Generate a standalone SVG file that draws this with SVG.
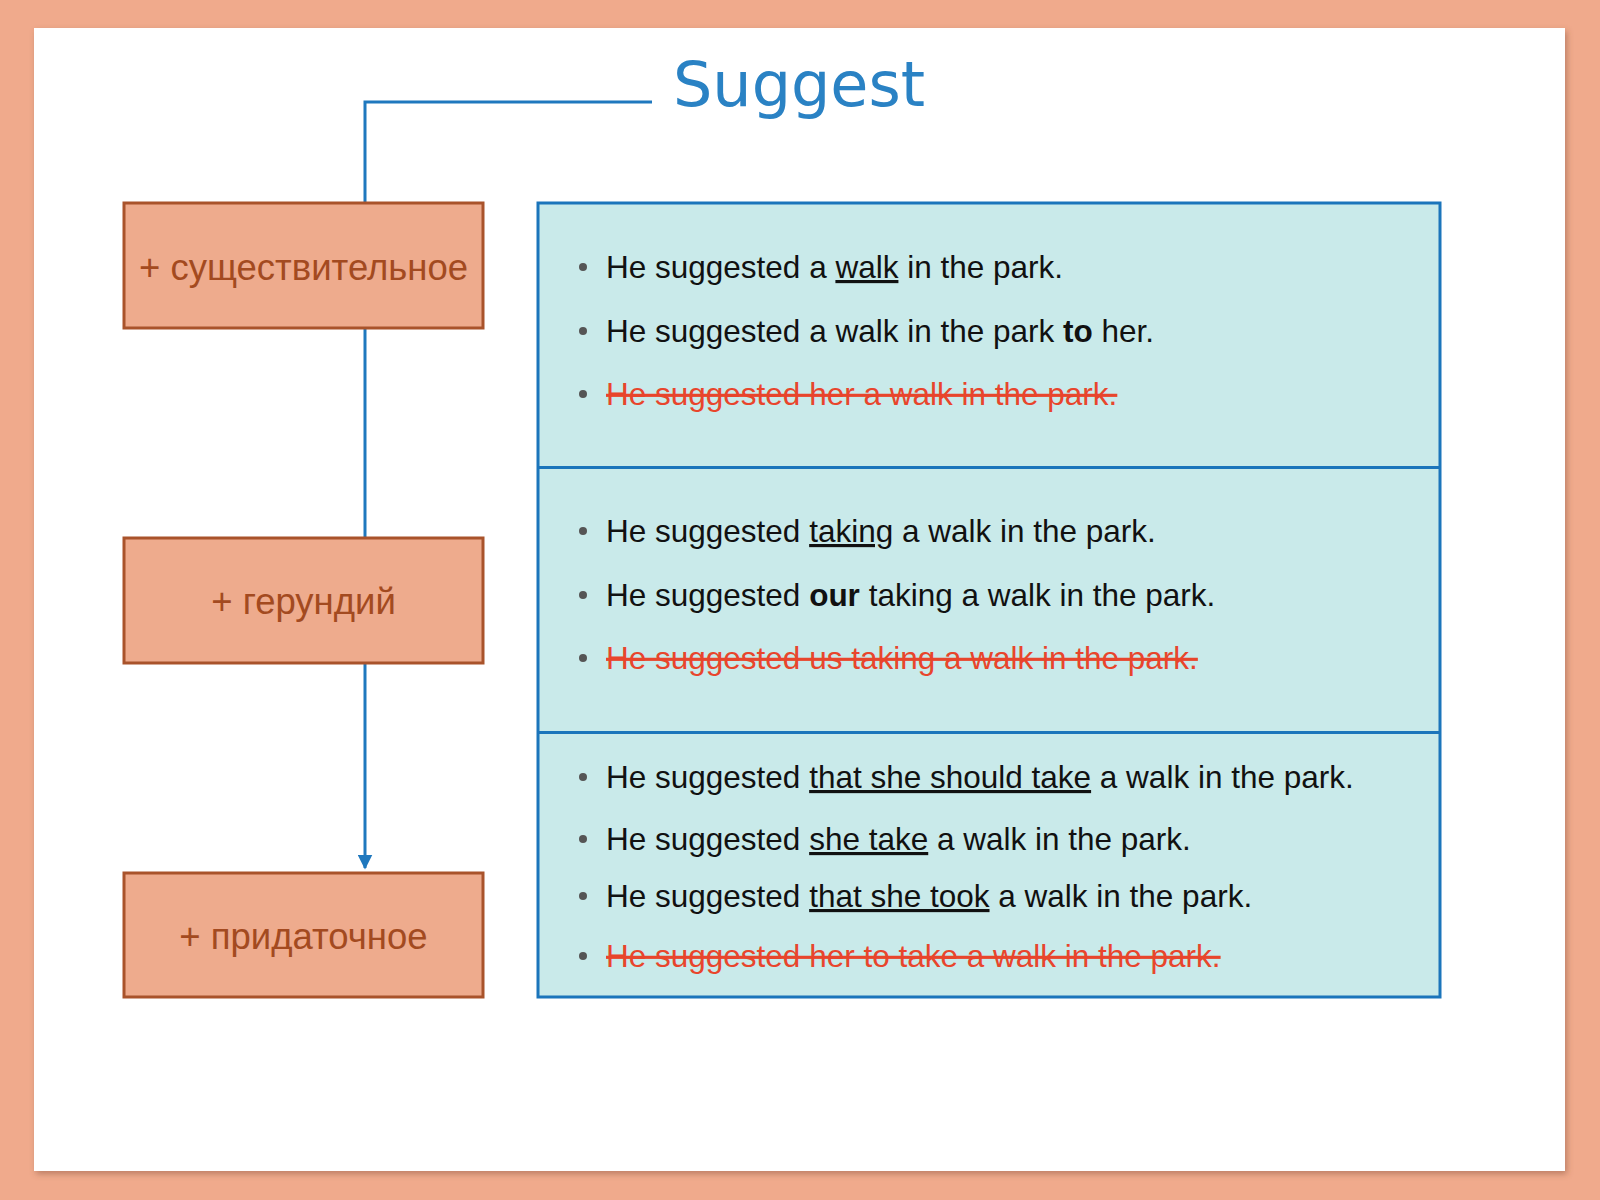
<svg xmlns="http://www.w3.org/2000/svg" width="1600" height="1200" viewBox="0 0 1600 1200">
<defs>
<filter id="sh" x="-5%" y="-5%" width="110%" height="110%">
<feDropShadow dx="2" dy="3" stdDeviation="3" flood-color="#7a4a35" flood-opacity="0.45"/>
</filter>
<marker id="arr" viewBox="0 0 10 10" refX="9" refY="5" markerWidth="5" markerHeight="5" orient="auto" markerUnits="strokeWidth">
<path d="M0,0 L10,5 L0,10 z" fill="#1f78be"/>
</marker>
</defs>
<style>
.box{fill:#eeab8d;stroke:#a9532b;stroke-width:3}
.lbl{font-family:"Liberation Sans",Arial,sans-serif;font-size:36.5px;fill:#a34a20;text-anchor:middle}
.panel{fill:#c9eaea;stroke:#1b75bb;stroke-width:3}
.t{font-family:"Liberation Sans",Arial,sans-serif;font-size:31.5px;fill:#111}
.bad{fill:#e8452c;text-decoration:line-through}
.u{text-decoration:underline}
.b{font-weight:bold}
.dot{fill:#555}
.con{fill:none;stroke:#1f78be;stroke-width:3}
</style>
<rect x="0" y="0" width="1600" height="1200" fill="#f0aa8c"/>
<rect x="34" y="28" width="1531" height="1143" fill="#ffffff" filter="url(#sh)"/>
<text x="673" y="106" font-family="DejaVu Sans,Verdana,sans-serif" font-size="62" fill="#2a82c4">Suggest</text>
<g id="connectors">
<path class="con" d="M652,102 H365 V203"/>
<path class="con" d="M365,328 V538"/>
<path class="con" d="M365,663 V868" marker-end="url(#arr)"/>
</g>
<g id="node-noun">
<rect class="box" x="124" y="203" width="359" height="125"/>
<text class="lbl" x="303.5" y="280">+ существительное</text>
</g>
<g id="node-gerund">
<rect class="box" x="124" y="538" width="359" height="125"/>
<text class="lbl" x="303.5" y="614">+ герундий</text>
</g>
<g id="node-clause">
<rect class="box" x="124" y="873" width="359" height="124"/>
<text class="lbl" x="303.5" y="949">+ придаточное</text>
</g>
<g id="examples">
<rect class="panel" x="538" y="203" width="902" height="794"/>
<line x1="538" y1="467.5" x2="1440" y2="467.5" stroke="#1b75bb" stroke-width="3"/>
<line x1="538" y1="732.5" x2="1440" y2="732.5" stroke="#1b75bb" stroke-width="3"/>
<g class="dot">
<circle cx="583" cy="267" r="4"/>
<circle cx="583" cy="331" r="4"/>
<circle cx="583" cy="394" r="4"/>
<circle cx="583" cy="531" r="4"/>
<circle cx="583" cy="595" r="4"/>
<circle cx="583" cy="658" r="4"/>
<circle cx="583" cy="777" r="4"/>
<circle cx="583" cy="839" r="4"/>
<circle cx="583" cy="896" r="4"/>
<circle cx="583" cy="956" r="4"/>
</g>
<text class="t" x="606" y="278">He suggested a <tspan class="u">walk</tspan> in the park.</text>
<text class="t" x="606" y="342">He suggested a walk in the park <tspan class="b">to</tspan> her.</text>
<text class="t bad" x="606" y="405">He suggested her a walk in the park.</text>
<text class="t" x="606" y="542">He suggested <tspan class="u">taking</tspan> a walk in the park.</text>
<text class="t" x="606" y="606">He suggested <tspan class="b">our</tspan> taking a walk in the park.</text>
<text class="t bad" x="606" y="669">He suggested us taking a walk in the park.</text>
<text class="t" x="606" y="788">He suggested <tspan class="u">that she should take</tspan> a walk in the park.</text>
<text class="t" x="606" y="850">He suggested <tspan class="u">she take</tspan> a walk in the park.</text>
<text class="t" x="606" y="907">He suggested <tspan class="u">that she took</tspan> a walk in the park.</text>
<text class="t bad" x="606" y="967">He suggested her to take a walk in the park.</text>
</g>
</svg>
